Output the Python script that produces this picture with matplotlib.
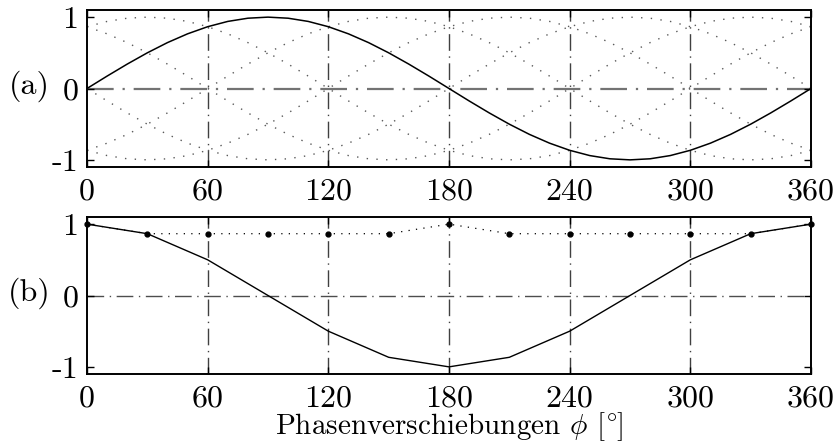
import numpy as np
import matplotlib.pyplot as plt

plt.rcParams['font.family'] = ['serif']
plt.rcParams['font.serif'] = ['cmr10', 'DejaVu Serif']
plt.rcParams['mathtext.fontset'] = 'cm'
plt.rcParams['axes.unicode_minus'] = False

phi_a = np.arange(0, 361, 10)
signal = [0.0, 0.174, 0.342, 0.5, 0.643, 0.766, 0.866, 0.940, 0.985, 1.0,
          0.985, 0.940, 0.866, 0.766, 0.643, 0.5, 0.342, 0.174, 0.0,
          -0.174, -0.342, -0.5, -0.643, -0.766, -0.866, -0.940, -0.985, -1.0,
          -0.985, -0.940, -0.866, -0.766, -0.643, -0.5, -0.342, -0.174, 0.0]
shifts = [60, 120, 180, 240, 300]   # phase shifts of the dotted copies

# (b) values at 30 degree steps
phi_b = [0, 30, 60, 90, 120, 150, 180, 210, 240, 270, 300, 330, 360]
corr = [1.0, 0.866, 0.5, 0.0, -0.5, -0.866, -1.0, -0.866, -0.5, 0.0, 0.5, 0.866, 1.0]
peak = [1.0, 0.866, 0.866, 0.866, 0.866, 0.866, 1.0, 0.866, 0.866, 0.866, 0.866, 0.866, 1.0]

xticks = [0, 60, 120, 180, 240, 300, 360]
yticks = [-1, 0, 1]
yticklabels = ['-1', '0', '1']

W, H = 837, 441
fig = plt.figure(figsize=(W / 100, H / 100), dpi=100)
ax1 = fig.add_axes([87 / W, 1 - 167 / H, 724 / W, 157 / H])
ax2 = fig.add_axes([87 / W, 1 - 374 / H, 724 / W, 157 / H])

dashdot = (0, (12, 4, 1, 4))


def style(ax):
    ax.set_xlim(0, 360)
    ax.set_ylim(-1.1, 1.1)
    ax.set_xticks(xticks)
    ax.set_xticklabels([str(t) for t in xticks])
    ax.set_yticks(yticks)
    ax.set_yticklabels(yticklabels)
    ax.tick_params(direction='in', length=5, width=1, top=True, right=True,
                   labelsize=23)
    ax.tick_params(axis='x', pad=8)
    ax.tick_params(axis='y', pad=6)
    for s in ax.spines.values():
        s.set_linewidth(1.4)
    for xv in xticks[1:-1]:
        ax.axvline(xv, color='0.25', lw=1, linestyle=dashdot, zorder=1)


# top: signal and its phase-shifted copies
style(ax1)
ax1.axhline(0, color='0.45', lw=1.6, linestyle=dashdot, zorder=1)
base = np.array(signal[:-1])
for sh in shifts:
    k = sh // 10
    shifted = np.roll(base, -k)
    ax1.plot(phi_a, np.append(shifted, shifted[0]), color='0.35', lw=1,
             linestyle=(0, (1, 6)), zorder=2)
ax1.plot(phi_a, signal, color='black', lw=1.1, zorder=3)

# bottom: correlation over phase shift
style(ax2)
ax2.axhline(0, color='0.3', lw=1, linestyle=dashdot, zorder=1)
ax2.plot(phi_b, peak, color='black', lw=0.9, linestyle=(0, (1, 5)),
         marker='o', markersize=3.5, zorder=3, clip_on=False)
ax2.plot(phi_b, corr, color='black', lw=1, zorder=3)
ax2.set_xlabel(r'Phasenverschiebungen $\phi$ $[^{\circ}\hspace{-0.08}]$', fontsize=21, labelpad=-2)

fig.text(29 / W, 1 - 86 / H, '(a)', fontsize=23, ha='center', va='center')
fig.text(29 / W, 1 - 293 / H, '(b)', fontsize=23, ha='center', va='center')

fig.savefig('out.png', dpi=100)
